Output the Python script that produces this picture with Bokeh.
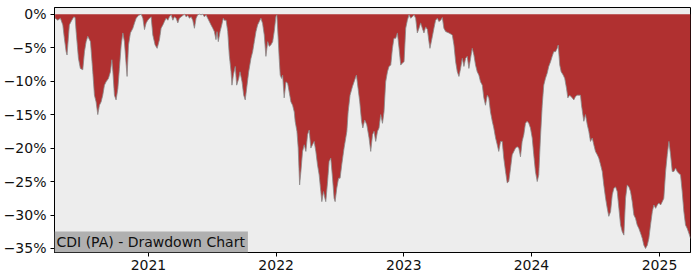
import pandas as pd
from bokeh.plotting import figure
from bokeh.models import Range1d, FixedTicker, CustomJSTickFormatter, Label, DatetimeTickFormatter
from bokeh.embed import file_html
from bokeh.resources import INLINE

# time as fractional year, drawdown in percent
t_year = [
    2020.271, 2020.292, 2020.312, 2020.331, 2020.343, 2020.357, 2020.364, 2020.382, 2020.401, 2020.417,
    2020.427, 2020.435, 2020.453, 2020.468, 2020.487, 2020.500, 2020.513, 2020.526, 2020.547, 2020.565,
    2020.578, 2020.591, 2020.604, 2020.617, 2020.630, 2020.643, 2020.656, 2020.669, 2020.687, 2020.703,
    2020.714, 2020.722, 2020.734, 2020.747, 2020.761, 2020.773, 2020.787, 2020.800, 2020.812, 2020.826,
    2020.833, 2020.844, 2020.859, 2020.878, 2020.891, 2020.904, 2020.922, 2020.943, 2020.956, 2020.969,
    2020.982, 2020.995, 2021.008, 2021.021, 2021.034, 2021.052, 2021.068, 2021.086, 2021.099, 2021.113,
    2021.125, 2021.138, 2021.152, 2021.164, 2021.178, 2021.191, 2021.203, 2021.217, 2021.230, 2021.242,
    2021.269, 2021.282, 2021.295, 2021.308, 2021.321, 2021.334, 2021.347, 2021.360, 2021.373, 2021.386,
    2021.399, 2021.412, 2021.425, 2021.438, 2021.451, 2021.464, 2021.477, 2021.490, 2021.504, 2021.516,
    2021.529, 2021.537, 2021.547, 2021.561, 2021.574, 2021.586, 2021.594, 2021.608, 2021.621, 2021.633,
    2021.647, 2021.654, 2021.665, 2021.680, 2021.691, 2021.707, 2021.717, 2021.733, 2021.746, 2021.758,
    2021.769, 2021.785, 2021.803, 2021.816, 2021.829, 2021.842, 2021.855, 2021.868, 2021.881, 2021.894,
    2021.907, 2021.920, 2021.934, 2021.946, 2021.959, 2021.973, 2021.985, 2021.998, 2022.006, 2022.016,
    2022.024, 2022.032, 2022.043, 2022.051, 2022.063, 2022.077, 2022.090, 2022.102, 2022.116, 2022.129,
    2022.142, 2022.149, 2022.163, 2022.173, 2022.184, 2022.194, 2022.207, 2022.220, 2022.233, 2022.246,
    2022.259, 2022.272, 2022.285, 2022.298, 2022.311, 2022.324, 2022.337, 2022.350, 2022.358, 2022.371,
    2022.382, 2022.389, 2022.403, 2022.415, 2022.428, 2022.442, 2022.454, 2022.462, 2022.475, 2022.489,
    2022.501, 2022.514, 2022.532, 2022.554, 2022.564, 2022.579, 2022.598, 2022.616, 2022.629, 2022.642,
    2022.655, 2022.669, 2022.679, 2022.694, 2022.710, 2022.728, 2022.741, 2022.755, 2022.767, 2022.780,
    2022.794, 2022.806, 2022.819, 2022.833, 2022.845, 2022.858, 2022.872, 2022.884, 2022.898, 2022.911,
    2022.923, 2022.937, 2022.950, 2022.963, 2022.976, 2022.989, 2023.002, 2023.015, 2023.028, 2023.041,
    2023.054, 2023.067, 2023.080, 2023.093, 2023.106, 2023.119, 2023.132, 2023.145, 2023.158, 2023.171,
    2023.185, 2023.197, 2023.205, 2023.224, 2023.236, 2023.249, 2023.263, 2023.275, 2023.289, 2023.302,
    2023.314, 2023.328, 2023.353, 2023.380, 2023.393, 2023.406, 2023.419, 2023.432, 2023.445, 2023.458,
    2023.471, 2023.484, 2023.497, 2023.510, 2023.523, 2023.536, 2023.549, 2023.562, 2023.575, 2023.588,
    2023.601, 2023.615, 2023.627, 2023.640, 2023.654, 2023.666, 2023.679, 2023.693, 2023.705, 2023.719,
    2023.732, 2023.744, 2023.758, 2023.771, 2023.783, 2023.797, 2023.810, 2023.822, 2023.836, 2023.849,
    2023.862, 2023.875, 2023.888, 2023.901, 2023.914, 2023.927, 2023.940, 2023.953, 2023.966, 2023.979,
    2023.992, 2024.006, 2024.018, 2024.031, 2024.045, 2024.057, 2024.070, 2024.084, 2024.096, 2024.109,
    2024.123, 2024.135, 2024.149, 2024.162, 2024.174, 2024.188, 2024.201, 2024.209, 2024.221, 2024.232,
    2024.248, 2024.260, 2024.274, 2024.284, 2024.299, 2024.318, 2024.331, 2024.344, 2024.357, 2024.383,
    2024.391, 2024.409, 2024.422, 2024.436, 2024.448, 2024.461, 2024.475, 2024.487, 2024.500, 2024.514,
    2024.526, 2024.540, 2024.553, 2024.565, 2024.579, 2024.592, 2024.604, 2024.618, 2024.631, 2024.644,
    2024.657, 2024.670, 2024.683, 2024.696, 2024.709, 2024.722, 2024.735, 2024.748, 2024.761, 2024.774,
    2024.787, 2024.800, 2024.813, 2024.826, 2024.839, 2024.852, 2024.866, 2024.878, 2024.891, 2024.905,
    2024.917, 2024.930, 2024.944, 2024.956, 2024.970, 2024.983, 2024.995, 2025.009, 2025.022, 2025.034,
    2025.048, 2025.061, 2025.074, 2025.087, 2025.100, 2025.113, 2025.126, 2025.139, 2025.152, 2025.165,
    2025.178, 2025.191, 2025.204, 2025.217, 2025.230, 2025.243,
]

drawdown_pct = [
    -0.6, -0.9, -0.6, -1.6, -3.6, -5.6, -6.1, -1.6, -0.9, -0.4,
    -0.5, -2.6, -6.6, -8.1, -8.3, -5.6, -4.1, -3.3, -4.1, -8.6,
    -12.1, -13.1, -15.0, -13.6, -13.1, -12.1, -10.6, -10.1, -9.6, -8.6,
    -6.8, -8.6, -12.1, -12.8, -11.1, -8.1, -4.6, -2.8, -4.1, -7.6,
    -9.3, -4.6, -2.8, -2.1, -1.3, -0.6, -0.2, 0.0, -0.6, -2.3,
    -1.3, -0.9, -0.6, -0.4, -3.1, -4.6, -5.1, -3.8, -2.1, -1.6,
    -1.1, -0.6, -0.9, -0.4, -0.1, -0.9, -0.4, -0.6, -1.3, -0.6,
    -0.2, 0.0, -0.4, -0.2, -0.6, -0.4, -0.9, -2.1, -0.6, -0.1,
    0.0, -0.1, 0.0, -0.4, -0.1, -0.6, -1.1, -1.6, -2.1, -2.6,
    -3.8, -2.6, -4.1, -2.6, -1.6, -0.6, -0.9, -0.9, -2.6, -6.1,
    -8.6, -10.6, -9.1, -7.8, -10.6, -9.6, -8.6, -10.1, -12.1, -12.8,
    -11.1, -8.6, -6.6, -5.6, -4.1, -2.6, -1.6, -1.1, -0.6, -1.4,
    -3.1, -6.3, -4.1, -4.8, -4.6, -4.1, -2.6, -0.4, -0.1, -3.6,
    -6.6, -9.1, -9.6, -9.1, -12.5, -10.1, -10.3, -11.6, -13.1, -13.6,
    -14.6, -16.0, -17.5, -20.0, -25.5, -23.5, -20.5, -19.5, -20.5, -18.0,
    -17.3, -20.0, -19.5, -19.0, -20.5, -22.5, -24.0, -26.5, -28.0, -26.5,
    -27.5, -28.0, -25.0, -22.0, -21.5, -24.5, -27.5, -28.0, -26.0, -24.5,
    -24.5, -22.5, -20.0, -17.5, -14.6, -12.1, -10.8, -9.8, -9.1, -11.1,
    -13.1, -16.0, -17.0, -15.8, -16.5, -18.5, -20.5, -18.0, -17.5, -19.0,
    -17.5, -17.0, -15.0, -16.3, -14.6, -10.1, -8.6, -7.8, -7.6, -5.1,
    -3.6, -3.6, -2.8, -5.1, -7.6, -7.3, -7.1, -2.1, -0.9, -0.1,
    -0.6, -0.4, -0.1, -0.6, -2.8, -2.1, -1.3, -2.1, -2.8, -1.9,
    -2.3, -4.1, -5.1, -3.3, -2.1, -0.9, -0.6, -1.1, -0.9, -0.5,
    -2.1, -2.6, -2.8, -3.1, -4.6, -7.1, -8.6, -9.3, -8.1, -6.6,
    -7.8, -6.6, -6.3, -8.1, -6.6, -5.1, -6.1, -7.6, -8.6, -9.1,
    -10.1, -10.6, -12.5, -13.6, -12.1, -12.5, -14.6, -16.0, -17.0, -18.5,
    -19.5, -20.5, -19.0, -19.0, -21.5, -23.5, -25.2, -25.0, -23.0, -21.0,
    -20.5, -20.0, -19.8, -20.0, -21.3, -19.0, -18.0, -16.3, -16.0, -16.3,
    -17.0, -18.5, -21.0, -23.5, -25.0, -24.0, -18.5, -13.6, -10.6, -9.6,
    -8.8, -7.8, -7.1, -6.3, -5.6, -5.6, -5.1, -4.6, -7.6, -8.6,
    -9.1, -9.6, -11.1, -12.5, -12.1, -12.5, -12.8, -12.3, -12.1, -12.1,
    -13.6, -16.0, -15.0, -16.5, -17.5, -19.0, -18.5, -19.5, -20.5, -21.0,
    -21.5, -22.5, -23.5, -25.5, -27.5, -29.0, -30.2, -29.5, -27.0, -26.0,
    -25.8, -26.5, -29.0, -31.5, -32.5, -33.0, -27.5, -25.5, -25.8, -26.5,
    -28.0, -30.0, -30.5, -31.5, -32.0, -32.7, -33.5, -34.5, -35.0, -34.5,
    -33.5, -31.5, -29.5, -28.5, -29.0, -28.5, -28.2, -28.5, -28.0, -27.5,
    -23.5, -21.0, -19.0, -21.0, -23.5, -23.5, -23.0, -23.5, -23.8, -24.0,
    -26.5, -29.5, -31.5, -32.0, -32.7, -33.5,
]

year_ticks = [2021, 2022, 2023, 2024, 2025]
pct_ticks = [0, -5, -10, -15, -20, -25, -30, -35]
title_text = "CDI (PA) - Drawdown Chart"


def frac_to_dt(t):
    y = int(t)
    s = pd.Timestamp(year=y, month=1, day=1)
    e = pd.Timestamp(year=y + 1, month=1, day=1)
    return s + (e - s) * (t - y)


dates = [frac_to_dt(t) for t in t_year]
zeros = [0.0] * len(dates)

x_start = frac_to_dt(2020.266)
x_end = frac_to_dt(2025.243)

p = figure(width=700, height=280, x_axis_type="datetime", output_backend="svg",
           toolbar_location=None,
           x_range=Range1d(x_start, x_end), y_range=Range1d(-35.6, 1.0),
           min_border_left=53, min_border_right=10, min_border_top=7, min_border_bottom=28)

p.background_fill_color = "#ededed"
p.border_fill_color = "white"
p.outline_line_color = "black"
p.outline_line_width = 1
p.xgrid.visible = False
p.ygrid.visible = False

p.varea(x=dates, y1=drawdown_pct, y2=zeros, fill_color="#b03030")
p.line(x=dates, y=drawdown_pct, line_color="#8a8a8a", line_width=1, line_alpha=0.8)

tick_ms = [pd.Timestamp(year=y, month=1, day=1).value / 1e6 for y in year_ticks]
p.xaxis.ticker = FixedTicker(ticks=tick_ms)
p.xaxis.formatter = DatetimeTickFormatter(years="%Y", months="%Y", days="%Y", hours="%Y")
p.yaxis.ticker = FixedTicker(ticks=pct_ticks)
p.yaxis.formatter = CustomJSTickFormatter(code="""
    return (tick < 0 ? '\u2212' : '') + Math.abs(tick).toFixed(0) + '%';
""")

for ax in (p.xaxis[0], p.yaxis[0]):
    ax.axis_line_color = "black"
    ax.major_tick_line_color = "black"
    ax.major_tick_out = 4
    ax.major_tick_in = 0
    ax.minor_tick_line_color = None
    ax.major_label_text_font = "DejaVu Sans"
    ax.major_label_text_font_size = "14px"
    ax.major_label_text_color = "#111111"

p.yaxis.major_label_standoff = 4
p.xaxis.major_label_standoff = 3

lbl = Label(x=0, y=0, x_units="screen", y_units="screen", text=title_text,
            text_font="DejaVu Sans", text_font_size="14px", text_color="#111111",
            background_fill_color="#b0b0b0", padding=(2, 3, 2, 3),
            text_baseline="bottom", text_align="left")
p.add_layout(lbl)

open("out.html", "w").write(file_html(p, INLINE))
